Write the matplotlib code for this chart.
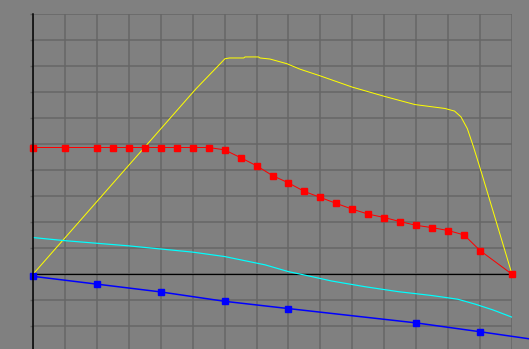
import numpy as np
import matplotlib
matplotlib.use("Agg")
import matplotlib.pyplot as plt

# valeurs
red_x = [0, 1, 2, 2.5, 3, 3.5, 4, 4.5, 5, 5.5, 6, 6.5, 7, 7.5, 8, 8.5, 9, 9.5,
         10, 10.5, 11, 11.5, 12, 12.5, 13, 13.5, 14, 15]
red_y = [4.87, 4.87, 4.87, 4.87, 4.87, 4.87, 4.87, 4.87, 4.87, 4.87, 4.78, 4.48,
         4.17, 3.79, 3.51, 3.18, 2.95, 2.72, 2.50, 2.31, 2.18, 2.02, 1.88, 1.79,
         1.68, 1.51, 0.91, 0.0]

yellow_x = [0, 5.1, 5.91, 6.01, 6.15, 6.6, 6.64, 7.06, 7.11, 7.42, 7.95, 8.36,
            9.0, 10.0, 11.02, 11.96, 12.9, 13.2, 13.4, 13.6, 13.79, 14.05, 15]
yellow_y = [0, 7.12, 8.15, 8.28, 8.31, 8.31, 8.35, 8.35, 8.31, 8.27, 8.09, 7.88,
            7.62, 7.19, 6.83, 6.52, 6.37, 6.27, 6.05, 5.6, 4.91, 3.88, 0]

cyan_x = [0, 1, 2, 3, 4, 5, 6, 7.27, 8, 8.5, 9.35, 10.4, 11.44, 12.5, 13.3,
          13.85, 14.4, 15]
cyan_y = [1.41, 1.29, 1.19, 1.09, 0.97, 0.85, 0.68, 0.36, 0.10, -0.03, -0.26,
          -0.48, -0.67, -0.82, -0.96, -1.15, -1.37, -1.65]

blue_x = [0, 2, 4, 6, 8, 12, 14, 15.53]
blue_y = [-0.08, -0.38, -0.68, -1.04, -1.32, -1.87, -2.21, -2.48]
blue_mk = [0, 1, 2, 3, 4, 5, 6]

W, H = 529, 349
px = 0.72  # 1 pixel en points

fig = plt.figure(figsize=(W/100, H/100), dpi=100, facecolor="#808080")
ax = fig.add_axes([33/W, 0, 479/W, 335/H])
ax.set_facecolor("#808080")

ax.set_xlim(0, 15)
ax.set_ylim(-2.873, 10)
ax.set_xticks(np.arange(0, 16, 1))
ax.set_yticks(np.arange(-2, 11, 1))
ax.set_xticklabels([])
ax.set_yticklabels([])
ax.tick_params(axis="x", length=0)
ax.tick_params(axis="y", length=2, width=1, color="#606060", direction="out")
ax.grid(True, color="#666666", linewidth=1.5*px)
ax.set_axisbelow(True)

for s in ["top", "right", "bottom"]:
    ax.spines[s].set_visible(False)
ax.spines["left"].set_color("black")
ax.spines["left"].set_linewidth(1.5*px)
ax.spines["left"].set_zorder(5)

ax.axhline(0, color="black", linewidth=1.2*px, zorder=2)

ax.plot(yellow_x, yellow_y, color="#FFFF00", linewidth=1*px, zorder=3)
ax.plot(cyan_x, cyan_y, color="#00FFFF", linewidth=1.2*px, zorder=3)
ax.plot(blue_x, blue_y, color="#0000FF", linewidth=1.5*px, marker="s",
        markersize=6.5*px, markevery=blue_mk, zorder=4, clip_on=False)
ax.plot(red_x, red_y, color="#FF0000", linewidth=1*px, marker="s",
        markersize=6.5*px, zorder=4, clip_on=False)

fig.savefig("out.png", dpi=100, facecolor="#808080")
